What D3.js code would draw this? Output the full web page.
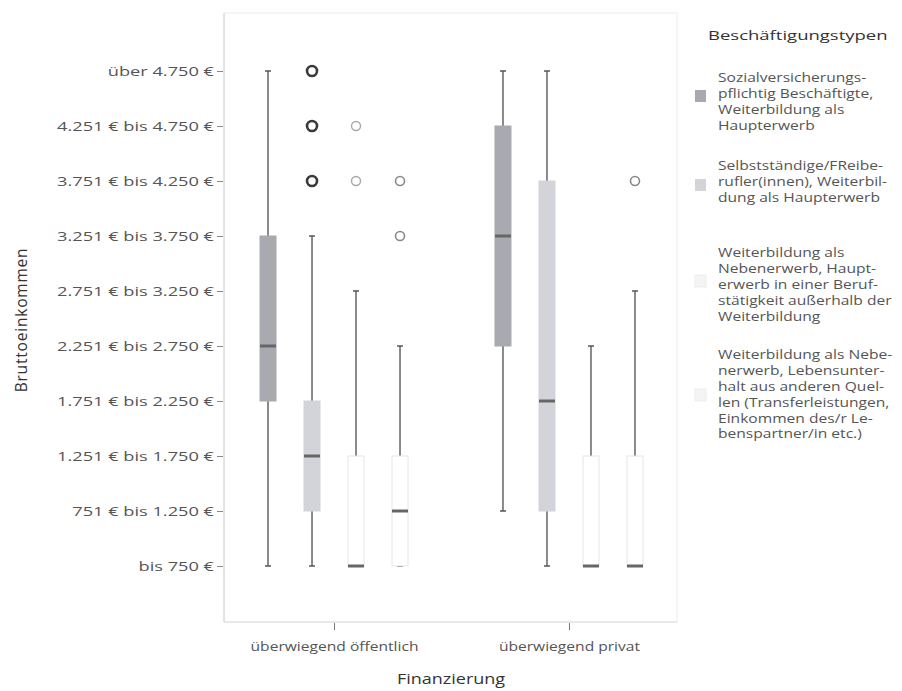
<!DOCTYPE html>
<html><head><meta charset="utf-8">
<script src="https://cdn.jsdelivr.net/npm/d3@7"></script>
<style>body{margin:0;background:#fff}svg{display:block}text{font-family:"Open Sans",sans-serif}</style>
</head><body><div id="chart"></div>
<script>
// ---- data ----
const incomeLabels = ["bis 750 €","751 € bis 1.250 €","1.251 € bis 1.750 €","1.751 € bis 2.250 €","2.251 € bis 2.750 €","2.751 € bis 3.250 €","3.251 € bis 3.750 €","3.751 € bis 4.250 €","4.251 € bis 4.750 €","über 4.750 €"];
const groups = ["überwiegend öffentlich","überwiegend privat"];
const types = ["Sozialversicherungspflichtig Beschäftigte, Weiterbildung als Haupterwerb",
  "Selbstständige/FReiberufler(innen), Weiterbildung als Haupterwerb",
  "Weiterbildung als Nebenerwerb, Haupterwerb in einer Berufstätigkeit außerhalb der Weiterbildung",
  "Weiterbildung als Nebenerwerb, Lebensunterhalt aus anderen Quellen (Transferleistungen, Einkommen des/r Lebenspartner/in etc.)"];
const legendLines = [
  ["Sozialversicherungs-","pflichtig Beschäftigte,","Weiterbildung als","Haupterwerb"],
  ["Selbstständige/FReibe-","rufler(innen), Weiterbil-","dung als Haupterwerb"],
  ["Weiterbildung als","Nebenerwerb, Haupt-","erwerb in einer Beruf-","stätigkeit außerhalb der","Weiterbildung"],
  ["Weiterbildung als Nebe-","nerwerb, Lebensunter-","halt aus anderen Quel-","len (Transferleistungen,","Einkommen des/r Le-","benspartner/in etc.)"]];
// income category index 1..10 : [min, q1, median, q3, max]
const offentlich = [[1,4,5,7,10],[1,2,3,4,7],[1,1,1,3,6],[1,1,2,3,5]];
const privat     = [[2,5,7,9,10],[1,2,4,8,10],[1,1,1,3,5],[1,1,1,3,6]];
const outliersOffentlich = [[],[8,9,10],[8,9],[7,8]];
const outliersPrivat     = [[],[],[],[8]];

// ---- layout ----
const W=902,H=691;
const fill=["#a9aab0","#d3d4d9","#ffffff","#ffffff"];
const boxStroke=["#a9aab0","#d3d4d9","#e6e6e6","#e6e6e6"];
const outStroke=["#444","#3a3a3a","#a8a8a8","#888"];
const outWidth=[2,2.6,1.4,1.6];

const svg=d3.select("#chart").append("svg").attr("width",W).attr("height",H);
const frame={l:224,r:677,t:13,b:622};
const y=d3.scaleLinear().domain([0,11]).range([621,16]);
const x=d3.scalePoint().domain(groups).range([frame.l+1,frame.r+1]).padding(0.464);
const xi=d3.scalePoint().domain(d3.range(4)).range([-66,66]);
const bw=16;

// frame
svg.append("rect").attr("x",frame.l).attr("y",frame.t).attr("width",frame.r-frame.l).attr("height",frame.b-frame.t)
  .attr("fill","none").attr("stroke","#ececec");
svg.append("line").attr("x1",frame.l).attr("x2",frame.l).attr("y1",frame.t).attr("y2",frame.b).attr("stroke","#d4d4d4");
svg.append("line").attr("x1",frame.l).attr("x2",frame.r).attr("y1",frame.b).attr("y2",frame.b).attr("stroke","#dcdcdc");

// y axis
const sy=1.35;
const yAxis=d3.axisLeft(y).tickValues(d3.range(1,11)).tickFormat(d=>incomeLabels[d-1]).tickSize(6).tickPadding(3);
const ya=svg.append("g").attr("transform",`translate(${frame.l-1},0)`).call(yAxis);
ya.select(".domain").remove();
ya.selectAll(".tick line").attr("stroke","#888");
ya.selectAll("text").attr("fill","#555").attr("font-size",13.5).attr("x",-9/sy).attr("transform",`scale(${sy},1)`);

// x axis
const sx=1.2;
const xAxis=d3.axisBottom(x).tickSize(7).tickPadding(12);
const xa=svg.append("g").attr("transform",`translate(0,${frame.b+1})`).call(xAxis);
xa.select(".domain").remove();
xa.selectAll(".tick line").attr("stroke","#777");
xa.selectAll("text").attr("fill","#555").attr("font-size",13).attr("transform",`scale(${sx},1)`);

svg.append("text").attr("transform",`translate(27,320) rotate(-90)`).attr("text-anchor","middle")
  .attr("font-size",15.5).attr("letter-spacing",0.8).attr("fill","#333").text("Bruttoeinkommen");
svg.append("text").attr("transform",`translate(451,684) scale(1.2,1)`).attr("text-anchor","middle")
  .attr("font-size",15).attr("fill","#333").text("Finanzierung");

// boxes
const data=[{g:groups[0],s:offentlich,o:outliersOffentlich},{g:groups[1],s:privat,o:outliersPrivat}];
data.forEach(D=>{
  D.s.forEach((v,i)=>{
    const cx=x(D.g)+xi(i);
    const g=svg.append("g");
    g.append("line").attr("x1",cx).attr("x2",cx).attr("y1",y(v[3])).attr("y2",y(v[4])).attr("stroke","#6e6e6e").attr("stroke-width",1.6);
    g.append("line").attr("x1",cx).attr("x2",cx).attr("y1",y(v[1])).attr("y2",y(v[0])).attr("stroke","#6e6e6e").attr("stroke-width",1.6);
    [v[0],v[4]].forEach(c=>g.append("line").attr("x1",cx-3).attr("x2",cx+3).attr("y1",y(c)).attr("y2",y(c)).attr("stroke","#555").attr("stroke-width",1.5));
    g.append("rect").attr("x",cx-bw/2).attr("y",y(v[3])).attr("width",bw).attr("height",Math.max(y(v[1])-y(v[3]),0))
      .attr("fill",fill[i]).attr("stroke",boxStroke[i]).attr("stroke-width",1);
    g.append("line").attr("x1",cx-bw/2).attr("x2",cx+bw/2).attr("y1",y(v[2])).attr("y2",y(v[2])).attr("stroke","#666").attr("stroke-width",3);
    D.o[i].forEach(c=>g.append("circle").attr("cx",cx).attr("cy",y(c)).attr("r",i===1?5:4.5)
      .attr("fill","none").attr("stroke",outStroke[i]).attr("stroke-width",outWidth[i]));
  });
});

// legend
const sl=1.3;
svg.append("text").attr("transform",`translate(708,40) scale(1.37,1)`).attr("font-size",13.5).attr("fill","#333").text("Beschäftigungstypen");
const itemTop=[82,170,257,359];
const swatchMid=[96,185,281,395];
const lineH=15.9;
legendLines.forEach((lines,i)=>{
  svg.append("rect").attr("x",695).attr("y",swatchMid[i]-6).attr("width",11).attr("height",12)
    .attr("fill",i<2?fill[i]:"#f4f4f4").attr("stroke",i<2?"none":"#eee");
  const t=svg.append("text").attr("transform",`translate(718,${itemTop[i]}) scale(${sl},1)`).attr("font-size",12).attr("fill","#555");
  lines.forEach((l,k)=>t.append("tspan").attr("x",0).attr("y",k*lineH).text(l));
});
</script></body></html>
